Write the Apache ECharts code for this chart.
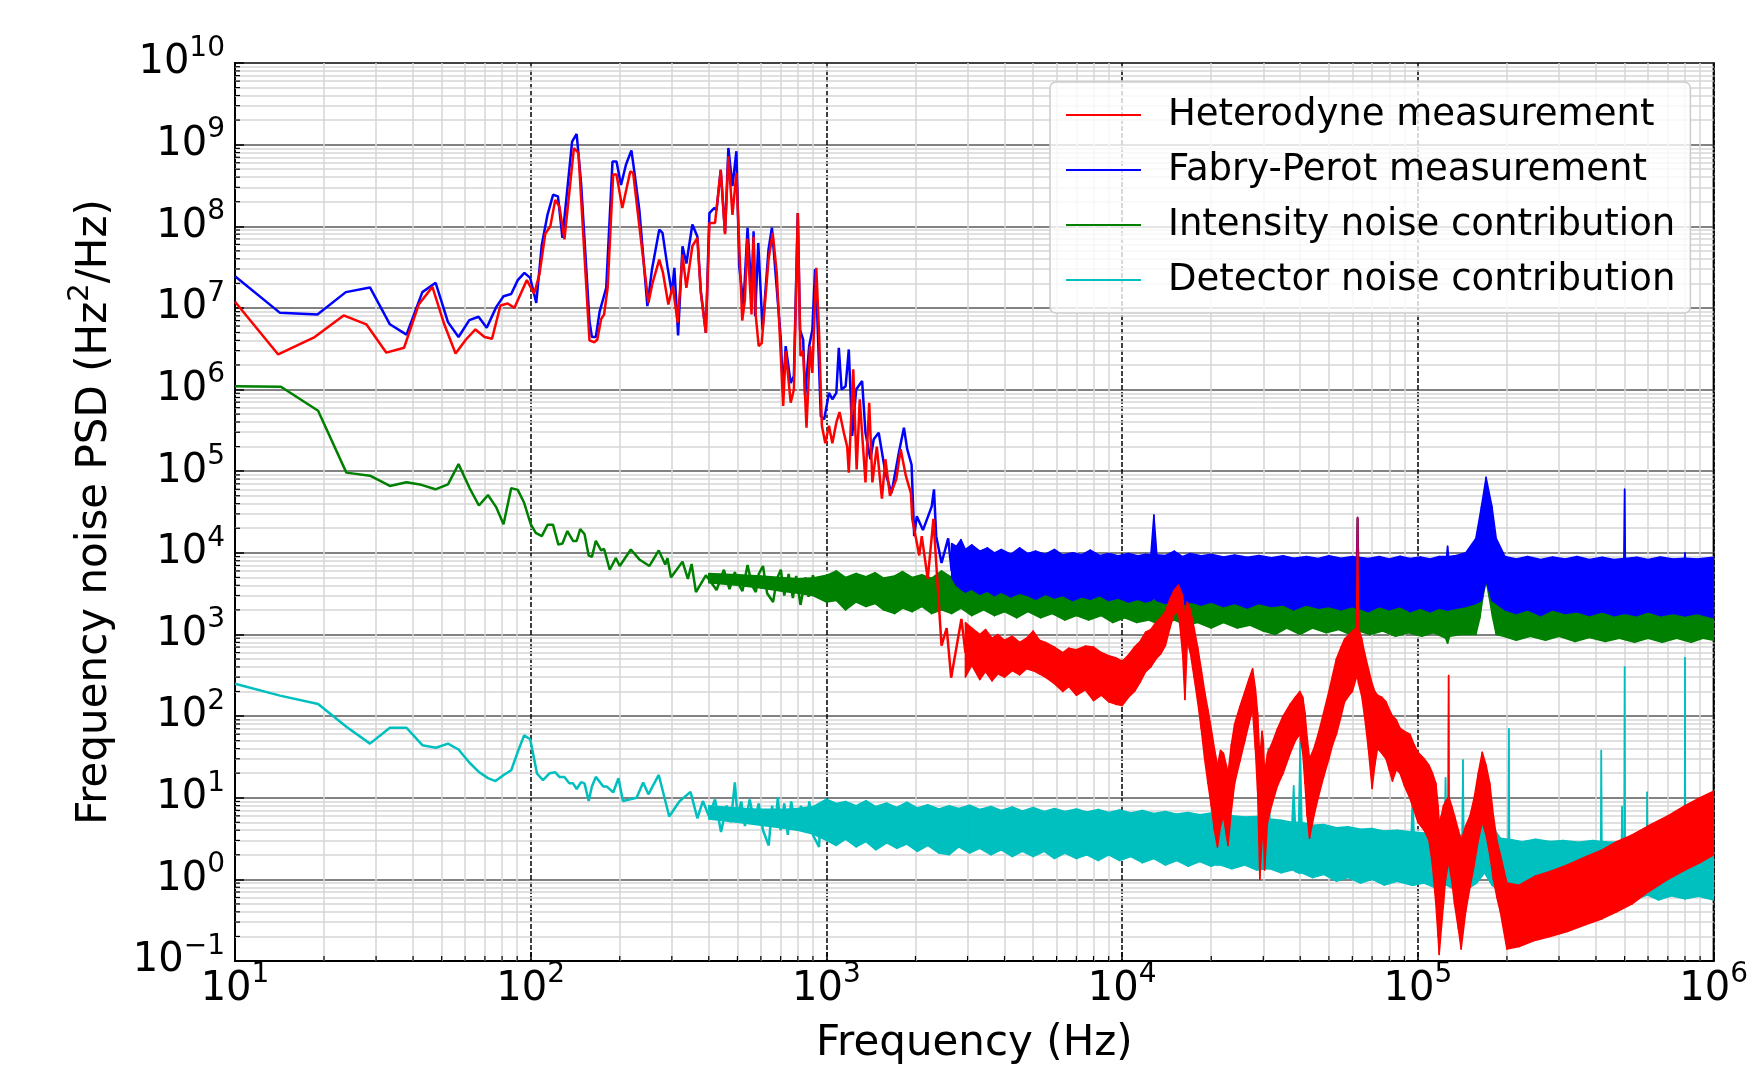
<!DOCTYPE html>
<html>
<head>
<meta charset="utf-8">
<title>Frequency noise PSD</title>
<script src="https://cdn.jsdelivr.net/npm/echarts@6/dist/echarts.min.js"></script>
<style>
  html, body { margin: 0; padding: 0; background: #fff; }
  #chart { width: 1751px; height: 1070px; }
</style>
</head>
<body>
<div id="chart"></div>
<script>
// values: frequency in Hz, PSD in Hz^2/Hz
const seriesNames = ['Heterodyne measurement', 'Fabry-Perot measurement', 'Intensity noise contribution', 'Detector noise contribution'];

// low-frequency parts, plotted as lines: [freq, psd]
const heterodyneLine = [
  [10, 1.19e7], [14, 2.69e6], [18.6, 4.4e6], [23.3, 8.1e6], [27.8, 6.3e6], [32.5, 2.83e6], [37.3, 3.25e6],
  [41.8, 1.1e7], [46.5, 1.81e7], [51, 6.3e6], [55.7, 2.76e6], [60.4, 4.1e6], [65, 5.45e6], [69.8, 4.4e6],
  [74, 4.2e6], [79, 1.07e7], [83.6, 1.13e7], [88, 1.0e7], [97, 2.19e7], [102.7, 1.5e7], [107, 2.57e7],
  [112, 8.1e7], [116.5, 1.0e8], [121, 2.1e8], [125, 1.75e8], [130, 6.9e7], [140, 9.1e8], [145, 7.9e8],
  [158, 4.0e6], [164, 3.8e6], [168, 4.1e6], [173, 7.3e6], [177, 8.3e6], [182, 1.76e7], [190, 4.3e8],
  [195, 4.3e8], [204, 1.67e8], [217, 4.7e8], [222, 4.5e8], [233, 1.0e8], [250, 1.15e7], [258, 2.0e7],
  [272, 3.9e7], [280, 2.7e7], [292, 1.1e7], [302, 1.85e7], [314, 6.6e6], [326, 4.5e7], [336, 1.76e7],
  [352, 5.7e7], [366, 7.2e7], [376, 1.53e7], [391, 4.95e6], [402, 1.1e8], [420, 1.1e8], [439, 4.9e8],
  [454, 8.0e7], [466, 7.2e8], [481, 1.38e8], [496, 4.5e8], [519, 7.0e6], [530, 1.26e7], [540, 7.0e7],
  [558, 8.3e6], [567, 7.5e7], [577, 7.9e6], [590, 3.4e6], [604, 3.7e6], [637, 3.9e7], [658, 8.3e7],
  [679, 2.7e7], [701, 2.57e6], [714, 6.3e5], [728, 2.95e6], [757, 6.9e5], [776, 1.0e6], [800, 1.45e8],
  [817, 2.57e6], [834, 2.95e6], [856, 3.4e5], [880, 3.4e6], [896, 1.6e6], [924, 3.1e7], [944, 4.95e6],
  [965, 3.6e5], [991, 2.2e5], [1020, 3.6e5], [1047, 2.2e5], [1080, 3.95e5], [1107, 5.3e5], [1145, 2.95e5],
  [1175, 2.0e5], [1190, 9.6e4], [1232, 1.77e6], [1265, 1.05e5], [1296, 7.6e5], [1355, 7.3e4], [1395, 6.9e5],
  [1430, 7.3e4], [1480, 2.0e5], [1540, 4.6e4], [1582, 1.4e5], [1640, 5.0e4], [1723, 8.0e4], [1782, 1.86e5],
  [1855, 8.8e4], [1930, 5.4e4], [1950, 2.6e4], [2060, 9.3e3], [2100, 1.6e4], [2200, 4.8e3], [2300, 2.6e4],
  [2400, 2.3e3], [2450, 730], [2550, 1.2e3], [2640, 295], [2860, 1.55e3], [2950, 600]
];
const fabryPerotLine = [
  [10, 2.44e7], [14.2, 8.7e6], [19, 8.3e6], [23.7, 1.56e7], [28.6, 1.78e7], [33.4, 6.3e6], [38, 4.7e6],
  [43, 1.56e7], [47.7, 2.03e7], [52.5, 6.7e6], [57, 4.4e6], [62, 7.1e6], [66.6, 7.8e6], [71, 5.7e6],
  [76.5, 1.03e7], [80.9, 1.39e7], [85.9, 1.48e7], [90.4, 2.19e7], [95.2, 2.69e7], [99.6, 2.33e7],
  [104.4, 1.15e7], [109, 5.96e7], [114, 1.39e8], [119, 2.43e8], [123.6, 2.32e8], [128, 7.2e7], [138, 1.09e9],
  [143, 1.35e9], [148, 3.39e8], [158, 6.9e6], [161, 4.4e6], [166, 4.4e6], [171, 9.0e6], [180, 1.76e7],
  [189, 6.2e8], [195, 6.2e8], [202, 3.2e8], [210, 5.7e8], [219, 8.5e8], [224, 4.7e8], [233, 1.58e8],
  [248, 1.05e7], [257, 2.96e7], [272, 9.1e7], [279, 8.3e7], [290, 3.2e7], [300, 1.53e7], [306, 3.1e7],
  [315, 4.6e6], [326, 5.7e7], [336, 3.5e7], [352, 1.05e8], [366, 7.5e7], [376, 1.6e7], [391, 4.95e6],
  [402, 1.45e8], [417, 1.67e8], [425, 1.58e8], [439, 4.9e8], [454, 8.3e7], [466, 9.1e8], [481, 3.1e8],
  [496, 8.3e8], [507, 3.2e7], [524, 1.1e7], [541, 9.6e7], [558, 1.53e7], [567, 8.7e7], [574, 7.9e6],
  [588, 6.25e7], [608, 5.4e6], [637, 5.2e7], [654, 9.6e7], [670, 3.2e7], [701, 4.1e6], [713, 9.1e5],
  [728, 3.4e6], [757, 1.2e6], [776, 1.46e6], [800, 1.45e8], [814, 5.4e6], [834, 4.1e6], [847, 8.3e5],
  [874, 3.4e6], [896, 5.4e6], [915, 3.0e7], [931, 7.9e6], [957, 4.7e5], [982, 4.3e5], [1020, 9.1e5],
  [1047, 7.6e5], [1080, 9.1e5], [1101, 3.25e6], [1125, 1.0e6], [1161, 1.1e6], [1190, 3.1e6], [1222, 2.7e5],
  [1260, 1.0e6], [1320, 1.27e6], [1355, 2.95e5], [1408, 1.4e5], [1445, 2.46e5], [1502, 2.95e5], [1582, 9.6e4],
  [1660, 5.4e4], [1758, 1.7e5], [1828, 3.4e5], [1875, 1.86e5], [1940, 1.2e5], [1980, 1.6e4], [2020, 2.8e4],
  [2120, 1.9e4], [2270, 3.7e4], [2310, 6.0e4], [2350, 1.6e4], [2450, 7.5e3], [2580, 1.5e4], [2650, 6.0e3]
];
const intensityLine = [
  [10, 1.1e6], [14.3, 1.08e6], [19.1, 5.5e5], [23.8, 9.6e4], [28.6, 8.8e4], [33.4, 6.6e4], [38, 7.3e4],
  [42.7, 6.8e4], [47.6, 6.0e4], [52.5, 6.9e4], [57, 1.22e5], [62, 6.3e4], [66.8, 3.8e4], [71.7, 5.1e4],
  [76.5, 3.6e4], [80.9, 2.24e4], [85.9, 6.2e4], [90.4, 5.9e4], [95, 4.1e4], [100, 2.24e4], [104, 1.75e4],
  [109, 1.6e4], [114, 2.2e4], [119, 2.2e4], [124, 1.26e4], [128, 1.3e4], [133, 1.85e4], [139, 1.4e4],
  [143, 1.4e4], [147, 1.95e4], [152, 1.7e4], [157, 9.3e3], [161, 8.9e3], [166, 1.4e4], [173, 1.07e4],
  [177, 1.12e4], [185, 6.2e3], [194, 8.6e3], [200, 6.9e3], [218, 1.1e4], [233, 8.3e3], [252, 6.9e3],
  [271, 1.07e4], [285, 7.2e3], [290, 8.6e3], [298, 5.0e3], [326, 7.8e3], [340, 4.8e3], [350, 7.3e3],
  [362, 3.3e3], [391, 5.3e3], [410, 4.2e3], [425, 3.5e3], [450, 6.2e3], [470, 3.6e3], [490, 5.8e3],
  [507, 4.0e3], [520, 3.4e3], [541, 7.1e3], [560, 4.0e3], [577, 3.3e3], [590, 5.5e3], [610, 6.9e3],
  [630, 3.2e3], [660, 2.5e3], [680, 4.8e3], [701, 6.2e3], [720, 3.0e3], [745, 5.5e3], [770, 2.8e3],
  [790, 5.2e3], [817, 2.3e3], [850, 5.0e3], [870, 2.9e3], [900, 5.3e3], [944, 2.85e3], [970, 4.8e3],
  [1000, 3.0e3]
];
const detectorLine = [
  [10, 249], [14.2, 178], [19.1, 141], [23.8, 74], [28.6, 46], [33.4, 72], [38, 72], [43, 44], [47.8, 41],
  [52.5, 46], [57, 39], [62, 27], [67, 20.5], [71.7, 17.4], [76, 16], [81, 19], [85.9, 21.7], [90.4, 36.5],
  [95, 58], [99.6, 52], [105, 19.8], [110, 16.4], [116, 20], [121, 20.5], [125, 18], [130, 18], [135, 15],
  [139, 15], [143, 12.8], [148, 15.5], [152, 15], [157, 9.1], [161, 13.7], [166, 18], [176, 13.7], [181, 13.7],
  [190, 11.6], [198, 17.3], [205, 9.1], [228, 10], [240, 15.4], [250, 11], [258, 13.7], [271, 19], [294, 5.9],
  [318, 9], [347, 11.8], [366, 5.6], [382, 9.1], [400, 6], [420, 9.5], [440, 3.8], [460, 8], [475, 5],
  [490, 15.4], [500, 6], [515, 9], [530, 4.5], [550, 9.5], [570, 5], [590, 8.5], [610, 4], [638, 2.6],
  [655, 8], [670, 4.5], [685, 10], [700, 4], [720, 8.5], [740, 3.5], [760, 9], [790, 4], [820, 8],
  [850, 3.8], [875, 9], [900, 3.5], [944, 2.5], [960, 8.5], [985, 3.5], [1000, 6]
];

// dense noisy parts, plotted as envelopes: [freq, low, high]
const heterodyneBand = [
  [2950, 300, 1400], [3100, 420, 1200], [3300, 280, 1000], [3450, 350, 1150], [3630, 270, 900], [3800, 330, 1000],
  [4000, 300, 850], [4250, 360, 950], [4500, 320, 800], [4750, 380, 900], [5000, 360, 1100], [5250, 330, 850],
  [5500, 300, 800], [5900, 250, 700], [6300, 200, 600], [6600, 230, 680], [7000, 180, 650], [7500, 210, 720],
  [8000, 155, 700], [8500, 180, 600], [9000, 150, 550], [9500, 140, 520], [1.0e4, 135, 470], [1.05e4, 170, 560],
  [1.1e4, 200, 700], [1.15e4, 260, 820], [1.2e4, 350, 1070], [1.25e4, 400, 1150], [1.3e4, 500, 1400],
  [1.35e4, 580, 1600], [1.4e4, 730, 1900], [1.45e4, 1200, 2700], [1.5e4, 1800, 3500], [1.55e4, 1900, 4000],
  [1.6e4, 600, 3000], [1.63e4, 160, 1500], [1.66e4, 800, 2500], [1.7e4, 600, 2000], [1.75e4, 300, 1200],
  [1.8e4, 150, 700], [1.85e4, 70, 380], [1.9e4, 30, 200], [1.95e4, 15, 120], [2.0e4, 8, 70], [2.05e4, 4, 40],
  [2.1e4, 2.5, 25], [2.15e4, 4.5, 38], [2.2e4, 6, 35], [2.25e4, 3.5, 25], [2.28e4, 2.6, 20], [2.34e4, 7, 45],
  [2.4e4, 15, 80], [2.5e4, 28, 130], [2.6e4, 50, 200], [2.68e4, 80, 280], [2.76e4, 120, 380], [2.82e4, 40, 220],
  [2.87e4, 12, 110], [2.92e4, 1, 30], [2.97e4, 3, 65], [3.0e4, 6, 50], [3.03e4, 1.3, 20], [3.1e4, 5, 35],
  [3.2e4, 8, 45], [3.35e4, 14, 70], [3.5e4, 20, 100], [3.7e4, 35, 140], [3.85e4, 50, 170], [3.99e4, 60, 200],
  [4.08e4, 35, 170], [4.15e4, 15, 110], [4.22e4, 6, 55], [4.3e4, 3.2, 30], [4.45e4, 6, 40], [4.6e4, 10, 60],
  [4.8e4, 18, 110], [5.0e4, 30, 200], [5.15e4, 45, 320], [5.3e4, 60, 500], [5.5e4, 100, 700], [5.65e4, 150, 880],
  [5.85e4, 180, 1000], [6.0e4, 200, 1100], [6.2e4, 300, 1200], [6.25e4, 300, 2.7e4], [6.3e4, 250, 1200],
  [6.45e4, 180, 900], [6.6e4, 100, 600], [6.8e4, 40, 380], [7.0e4, 13, 250], [7.15e4, 25, 200], [7.3e4, 40, 180],
  [7.55e4, 35, 170], [7.8e4, 30, 150], [8.0e4, 22, 120], [8.2e4, 16, 100], [8.45e4, 22, 90], [8.7e4, 20, 71],
  [9.0e4, 14, 65], [9.4e4, 9.8, 60], [9.7e4, 7, 45], [1.0e5, 5, 36], [1.05e5, 4, 30], [1.09e5, 3, 25],
  [1.12e5, 1.5, 20], [1.15e5, 0.5, 15], [1.17e5, 0.2, 8], [1.18e5, 0.12, 5], [1.2e5, 0.25, 6], [1.22e5, 0.5, 8],
  [1.24e5, 1, 9], [1.265e5, 1.5, 10], [1.27e5, 2, 315], [1.275e5, 1.5, 10], [1.3e5, 1, 8], [1.33e5, 0.5, 6],
  [1.37e5, 0.25, 4], [1.4e5, 0.14, 3], [1.45e5, 0.4, 4.5], [1.5e5, 0.8, 6], [1.55e5, 1.5, 10], [1.6e5, 3, 20],
  [1.65e5, 5, 36], [1.7e5, 3.5, 25], [1.75e5, 2, 15], [1.8e5, 1, 6], [1.85e5, 0.6, 3], [1.9e5, 0.4, 2],
  [2.0e5, 0.14, 0.9], [2.2e5, 0.15, 0.85], [2.5e5, 0.18, 1.1], [2.8e5, 0.2, 1.25], [3.2e5, 0.23, 1.5],
  [3.7e5, 0.28, 1.9], [4.2e5, 0.33, 2.3], [4.7e5, 0.4, 2.9], [5.3e5, 0.5, 3.5], [6.0e5, 0.7, 4.5],
  [7.0e5, 1, 6], [8.0e5, 1.3, 8], [9.0e5, 1.6, 10], [1.0e6, 2, 12]
];
const fabryPerotBand = [
  [2650, 5.0e3, 1.3e4], [2750, 4.0e3, 1.2e4], [2850, 3.6e3, 1.45e4], [2950, 3.3e3, 1.1e4], [3100, 3.6e3, 1.25e4],
  [3300, 3.1e3, 1.05e4], [3500, 3.4e3, 1.15e4], [3700, 3.0e3, 1.0e4], [3900, 3.3e3, 1.1e4], [4200, 2.9e3, 9.6e3],
  [4500, 3.2e3, 1.15e4], [4800, 3.0e3, 9.8e3], [5100, 2.7e3, 1.05e4], [5500, 3.1e3, 9.6e3], [5900, 2.8e3, 1.1e4],
  [6300, 3.0e3, 9.4e3], [6800, 2.6e3, 1.0e4], [7300, 2.9e3, 9.5e3], [7800, 2.7e3, 1.08e4], [8400, 3.0e3, 9.3e3],
  [9000, 2.6e3, 9.8e3], [9700, 2.8e3, 9.2e3], [1.05e4, 2.5e3, 9.8e3], [1.13e4, 2.7e3, 9.2e3], [1.2e4, 2.5e3, 9.6e3],
  [1.25e4, 2.6e3, 9.5e3], [1.28e4, 2.8e3, 2.9e4], [1.31e4, 2.6e3, 9.5e3], [1.4e4, 2.4e3, 9.3e3], [1.5e4, 2.6e3, 1.05e4],
  [1.6e4, 2.3e3, 9.0e3], [1.7e4, 2.5e3, 9.8e3], [1.85e4, 2.3e3, 9.2e3], [2.0e4, 2.5e3, 9.6e3], [2.2e4, 2.2e3, 8.9e3],
  [2.4e4, 2.4e3, 9.4e3], [2.65e4, 2.1e3, 8.8e3], [2.9e4, 2.4e3, 9.3e3], [3.2e4, 2.2e3, 8.7e3], [3.5e4, 2.3e3, 9.2e3],
  [3.8e4, 2.0e3, 8.6e3], [4.2e4, 2.3e3, 9.0e3], [4.6e4, 2.1e3, 8.5e3], [5.0e4, 2.2e3, 9.2e3], [5.5e4, 2.0e3, 8.6e3],
  [6.0e4, 2.2e3, 9.0e3], [6.2e4, 2.1e3, 8.8e3], [6.25e4, 2.1e3, 2.7e4], [6.3e4, 2.1e3, 8.8e3], [6.8e4, 1.9e3, 8.5e3],
  [7.4e4, 2.2e3, 9.0e3], [8.0e4, 2.0e3, 8.4e3], [8.7e4, 2.2e3, 9.1e3], [9.4e4, 1.9e3, 8.5e3], [1.02e5, 2.1e3, 8.9e3],
  [1.1e5, 1.9e3, 8.4e3], [1.18e5, 2.1e3, 9.0e3], [1.25e5, 2.0e3, 9.0e3], [1.26e5, 2.0e3, 1.2e4], [1.27e5, 2.0e3, 9.0e3],
  [1.35e5, 2.1e3, 9.3e3], [1.45e5, 2.2e3, 1.0e4], [1.57e5, 2.4e3, 1.5e4], [1.64e5, 2.6e3, 3.7e4], [1.7e5, 4.6e3, 8.4e4],
  [1.78e5, 2.6e3, 3.7e4], [1.84e5, 2.4e3, 1.5e4], [1.97e5, 2.0e3, 9.0e3], [2.15e5, 1.8e3, 8.4e3], [2.35e5, 2.0e3, 9.0e3],
  [2.6e5, 1.7e3, 8.3e3], [2.85e5, 2.0e3, 8.9e3], [3.15e5, 1.8e3, 8.4e3], [3.45e5, 1.9e3, 9.0e3], [3.8e5, 1.7e3, 8.3e3],
  [4.2e5, 1.9e3, 8.8e3], [4.6e5, 1.7e3, 8.3e3], [4.97e5, 1.8e3, 8.5e3], [5.0e5, 1.8e3, 6.0e4], [5.03e5, 1.8e3, 8.5e3],
  [5.5e5, 1.7e3, 8.8e3], [6.0e5, 1.9e3, 8.3e3], [6.6e5, 1.7e3, 8.9e3], [7.3e5, 1.8e3, 8.4e3], [7.97e5, 1.7e3, 8.6e3],
  [8.0e5, 1.7e3, 1.0e4], [8.03e5, 1.7e3, 8.6e3], [8.8e5, 1.8e3, 8.4e3], [1.0e6, 1.6e3, 8.8e3]
];
const intensityBand = [
  [400, 4.3e3, 5.6e3], [500, 4.0e3, 5.4e3], [600, 3.7e3, 5.2e3], [700, 3.4e3, 5.0e3], [800, 3.2e3, 4.8e3],
  [900, 3.0e3, 4.9e3], [1000, 2.5e3, 5.3e3], [1080, 2.6e3, 6.0e3], [1160, 2.0e3, 5.0e3], [1260, 2.5e3, 5.6e3],
  [1360, 2.2e3, 5.1e3], [1460, 2.4e3, 5.7e3], [1560, 2.0e3, 4.9e3], [1700, 1.8e3, 5.2e3], [1810, 2.1e3, 5.9e3],
  [1950, 1.9e3, 5.0e3], [2100, 2.2e3, 5.4e3], [2270, 1.8e3, 4.9e3], [2450, 2.0e3, 6.0e3], [2650, 1.8e3, 5.0e3],
  [2850, 2.1e3, 5.4e3], [3100, 1.7e3, 4.8e3], [3400, 2.0e3, 5.3e3], [3700, 1.7e3, 4.7e3], [4000, 1.9e3, 5.1e3],
  [4400, 1.6e3, 4.6e3], [4800, 1.9e3, 5.0e3], [5300, 1.6e3, 4.5e3], [5800, 1.8e3, 4.9e3], [6400, 1.5e3, 4.4e3],
  [7000, 1.7e3, 4.7e3], [7700, 1.5e3, 4.3e3], [8500, 1.7e3, 4.5e3], [9300, 1.4e3, 4.1e3], [1.02e4, 1.6e3, 4.4e3],
  [1.12e4, 1.4e3, 4.0e3], [1.23e4, 1.5e3, 4.3e3], [1.35e4, 1.3e3, 3.9e3], [1.5e4, 1.5e3, 4.1e3], [1.65e4, 1.3e3, 3.7e3],
  [1.8e4, 1.4e3, 3.9e3], [2.0e4, 1.2e3, 3.6e3], [2.2e4, 1.4e3, 3.8e3], [2.45e4, 1.2e3, 3.5e3], [2.7e4, 1.3e3, 3.7e3],
  [3.0e4, 1.1e3, 3.4e3], [3.3e4, 1.0e3, 3.5e3], [3.6e4, 1.2e3, 3.3e3], [4.0e4, 1.0e3, 3.5e3], [4.4e4, 1.2e3, 3.2e3],
  [4.9e4, 1.05e3, 3.4e3], [5.4e4, 1.15e3, 3.1e3], [5.9e4, 1.0e3, 3.3e3], [6.2e4, 1.1e3, 3.2e3], [6.25e4, 1.1e3, 2.6e4],
  [6.3e4, 1.1e3, 3.2e3], [6.9e4, 1.0e3, 3.1e3], [7.6e4, 1.1e3, 3.3e3], [8.4e4, 0.95e3, 3.0e3], [9.3e4, 1.05e3, 3.2e3],
  [1.03e5, 0.95e3, 3.0e3], [1.13e5, 1.05e3, 3.1e3], [1.24e5, 0.9e3, 2.9e3], [1.26e5, 0.78e3, 2.9e3], [1.28e5, 0.95e3, 2.9e3],
  [1.4e5, 1.0e3, 3.0e3], [1.52e5, 1.0e3, 3.0e3], [1.57e5, 1.0e3, 3.5e3], [1.62e5, 1.6e3, 6.0e3], [1.66e5, 2.9e3, 1.5e4],
  [1.7e5, 4.6e3, 3.0e4], [1.74e5, 2.9e3, 1.5e4], [1.79e5, 1.6e3, 6.0e3], [1.84e5, 1.0e3, 3.5e3], [1.95e5, 0.95e3, 2.4e3],
  [2.15e5, 0.85e3, 2.3e3], [2.4e5, 0.95e3, 2.4e3], [2.7e5, 0.85e3, 2.2e3], [3.0e5, 0.95e3, 2.3e3], [3.4e5, 0.82e3, 2.2e3],
  [3.8e5, 0.92e3, 2.3e3], [4.3e5, 0.82e3, 2.1e3], [4.8e5, 0.9e3, 2.3e3], [5.4e5, 0.8e3, 2.1e3], [6.0e5, 0.9e3, 2.2e3],
  [6.7e5, 0.8e3, 2.1e3], [7.5e5, 0.9e3, 2.2e3], [8.4e5, 0.8e3, 2.1e3], [9.2e5, 0.9e3, 2.2e3], [1.0e6, 0.85e3, 2.1e3]
];
const detectorBand = [
  [400, 5.5, 8.0], [500, 5.0, 7.5], [600, 4.6, 7.2], [700, 4.3, 7.2], [800, 4.0, 7.4], [900, 3.6, 7.8],
  [1000, 3.0, 9.6], [1080, 2.6, 8.5], [1160, 3.1, 9.0], [1260, 2.5, 8.0], [1360, 2.9, 9.2], [1470, 2.3, 7.8],
  [1600, 2.8, 8.6], [1730, 2.4, 7.6], [1870, 2.7, 8.8], [2030, 2.2, 7.5], [2200, 2.6, 8.2], [2400, 2.1, 7.3],
  [2600, 2.0, 8.0], [2800, 2.5, 7.4], [3050, 2.1, 8.1], [3300, 2.4, 7.2], [3600, 2.0, 7.8], [3900, 2.3, 7.0],
  [4250, 1.9, 7.7], [4600, 2.2, 6.9], [5000, 1.9, 7.6], [5450, 2.2, 6.8], [5900, 1.8, 7.4], [6400, 2.1, 6.8],
  [7000, 1.8, 7.3], [7600, 2.0, 6.7], [8300, 1.7, 7.2], [9000, 2.0, 6.6], [9800, 1.7, 7.1], [1.07e4, 1.9, 6.5],
  [1.17e4, 1.6, 7.0], [1.28e4, 1.8, 6.4], [1.4e4, 1.5, 6.8], [1.53e4, 1.7, 6.3], [1.67e4, 1.45, 6.6],
  [1.83e4, 1.65, 6.2], [2.0e4, 1.45, 6.5], [2.05e4, 1.5, 6.3], [2.1e4, 1.5, 16], [2.15e4, 1.5, 6.3],
  [2.35e4, 1.35, 6.0], [2.6e4, 1.5, 5.8], [2.85e4, 1.3, 5.9], [3.08e4, 1.35, 5.5], [3.12e4, 1.35, 40],
  [3.16e4, 1.35, 5.5], [3.45e4, 1.2, 5.3], [3.75e4, 1.3, 5.0], [3.8e4, 1.3, 14], [3.85e4, 1.25, 5.0],
  [3.95e4, 1.2, 5.0], [4.0e4, 1.2, 53], [4.05e4, 1.2, 5.0], [4.4e4, 1.05, 4.6], [4.8e4, 1.15, 4.7],
  [5.3e4, 0.95, 4.3], [5.8e4, 1.05, 4.4], [6.4e4, 0.9, 4.1], [7.0e4, 1.0, 4.2], [7.7e4, 0.85, 3.9],
  [8.5e4, 0.95, 4.0], [9.5e4, 0.85, 3.8], [9.6e4, 0.85, 14], [9.7e4, 0.85, 3.8], [1.05e5, 0.9, 3.7],
  [1.15e5, 0.78, 3.6], [1.23e5, 0.85, 3.5], [1.24e5, 0.85, 17.6], [1.25e5, 0.85, 3.5], [1.33e5, 0.75, 3.4],
  [1.41e5, 0.8, 3.5], [1.42e5, 0.8, 29], [1.43e5, 0.8, 3.5], [1.5e5, 0.8, 3.6], [1.58e5, 0.9, 4.5],
  [1.68e5, 1.2, 12], [1.78e5, 0.85, 4.5], [1.9e5, 0.7, 3.2], [2.02e5, 0.65, 3.1], [2.03e5, 0.65, 70],
  [2.04e5, 0.65, 3.1], [2.25e5, 0.6, 2.9], [2.5e5, 0.68, 3.1], [2.8e5, 0.58, 2.9], [3.1e5, 0.66, 3.0],
  [3.5e5, 0.57, 2.85], [3.9e5, 0.65, 3.0], [4.15e5, 0.6, 2.9], [4.17e5, 0.6, 38], [4.19e5, 0.6, 2.9],
  [4.5e5, 0.56, 2.85], [4.88e5, 0.62, 2.9], [4.9e5, 0.62, 7.8], [4.93e5, 0.62, 2.9], [4.98e5, 0.6, 2.9],
  [5.0e5, 0.6, 400], [5.02e5, 0.6, 2.9], [5.45e5, 0.57, 2.8], [5.94e5, 0.64, 2.9], [5.96e5, 0.64, 11.7],
  [5.98e5, 0.64, 2.9], [6.5e5, 0.56, 2.8], [7.2e5, 0.63, 2.95], [7.97e5, 0.58, 2.8], [8.0e5, 0.58, 520],
  [8.03e5, 0.58, 2.8], [8.9e5, 0.62, 2.9], [1.0e6, 0.56, 2.8]
];

// axis ticks
const xDecades = [10, 100, 1e3, 1e4, 1e5];
const yDecades = [0.1, 1, 10, 100, 1e3, 1e4, 1e5, 1e6, 1e7, 1e8, 1e9];
const minorMantissas = [2, 3, 4, 5, 6, 7, 8, 9];

const colors = ['#ff0000', '#0000ff', '#008000', '#00bfbf'];
const FONT = 'DejaVu Sans';

const xMinor = [];
xDecades.forEach(d => minorMantissas.forEach(m => xMinor.push(m * d)));
const yMinor = [];
yDecades.forEach(d => minorMantissas.forEach(m => yMinor.push(m * d)));

function powLabel(v) {
  const e = Math.round(Math.log10(v));
  return '{b|10}{e|' + (e < 0 ? '\u2212' + (-e) : e) + '}';
}
const powRich = {
  b: { fontSize: 40, fontFamily: FONT, color: '#000' },
  e: { fontSize: 28, fontFamily: FONT, color: '#000', padding: [0, 0, 29, 0] }
};

function traceLine(name, color, rows, z) {
  return {
    name: name, type: 'line', data: rows, z: z,
    symbol: 'none', showSymbol: false, silent: true, clip: true,
    lineStyle: { color: color, width: 2.5 }, itemStyle: { color: color },
    emphasis: { disabled: true }
  };
}

function traceBand(name, color, rows, z) {
  return {
    name: name, type: 'custom', data: rows, z: z, silent: true, clip: true,
    encode: { x: 0, y: [1, 2] }, itemStyle: { color: color },
    renderItem: function (params, api) {
      const i = params.dataIndexInside;
      if (i + 1 >= params.dataInsideLength) return null;
      const a = api.coord([api.value(0, i), api.value(2, i)]);
      const b = api.coord([api.value(0, i + 1), api.value(2, i + 1)]);
      const c = api.coord([api.value(0, i + 1), api.value(1, i + 1)]);
      const d = api.coord([api.value(0, i), api.value(1, i)]);
      return {
        type: 'polygon', shape: { points: [a, b, c, d] },
        style: { fill: color, stroke: color, lineWidth: 1.5, lineJoin: 'round' }
      };
    }
  };
}

function minorTicks(axis) {
  const data = axis === 'x' ? xMinor.map(v => [v, 0.1]) : yMinor.map(v => [10, v]);
  return {
    type: 'custom', data: data, z: 7, silent: true, clip: false,
    renderItem: function (params, api) {
      const p = api.coord([api.value(0), api.value(1)]);
      const shape = axis === 'x'
        ? { x1: p[0], y1: p[1], x2: p[0], y2: p[1] - 5 }
        : { x1: p[0], y1: p[1], x2: p[0] + 5, y2: p[1] };
      return { type: 'line', shape: shape, style: { stroke: '#000', lineWidth: 1.2 } };
    }
  };
}

const chart = echarts.init(document.getElementById('chart'));
chart.setOption({
  animation: false,
  backgroundColor: '#fff',
  textStyle: { fontFamily: FONT },
  grid: { left: 235, right: 35, top: 63, bottom: 107, show: true, borderColor: '#000', borderWidth: 2, backgroundColor: 'transparent' },
  legend: {
    data: seriesNames, orient: 'vertical', left: 1050, top: 82, z: 10,
    icon: 'rect', itemWidth: 75, itemHeight: 2, itemGap: 15,
    padding: [13, 15, 13, 16],
    backgroundColor: 'rgba(255,255,255,0.8)', borderColor: '#cccccc', borderWidth: 1.5, borderRadius: 6,
    textStyle: { fontSize: 37, fontFamily: FONT, color: '#000', lineHeight: 40, padding: [0, 0, 0, 22] },
    selectedMode: false
  },
  xAxis: {
    type: 'log', logBase: 10, min: 10, max: 1e6, interval: 1,
    name: 'Frequency (Hz)', nameLocation: 'middle', nameGap: 83,
    nameTextStyle: { fontSize: 42, fontFamily: FONT, color: '#000', verticalAlign: 'middle' },
    axisLine: { show: true, lineStyle: { color: '#000', width: 2 } },
    axisTick: { show: true, inside: true, length: 9, lineStyle: { color: '#000', width: 1.5 } },
    axisLabel: { margin: 0, formatter: powLabel, rich: powRich, showMinLabel: true, showMaxLabel: true },
    splitLine: { show: true, lineStyle: { color: '#000', width: 1.5, type: [5, 2] } },
    minorTick: { show: false }, minorSplitLine: { show: false }
  },
  yAxis: {
    type: 'log', logBase: 10, min: 0.1, max: 1e10, interval: 1,
    name: 'Frequency noise PSD (Hz{s|2}/Hz)', nameLocation: 'middle', nameGap: 140,
    nameTextStyle: {
      fontSize: 42, fontFamily: FONT, color: '#000', verticalAlign: 'middle',
      rich: { s: { fontSize: 29, fontFamily: FONT, color: '#000', padding: [0, 0, 30, 0] } }
    },
    axisLine: { show: true, lineStyle: { color: '#000', width: 2 } },
    axisTick: { show: true, inside: true, length: 9, lineStyle: { color: '#000', width: 1.5 } },
    axisLabel: { margin: 10, formatter: powLabel, rich: powRich, showMinLabel: true, showMaxLabel: true },
    splitLine: { show: true, lineStyle: { color: '#595959', width: 1.5 } },
    minorTick: { show: false }, minorSplitLine: { show: false }
  },
  series: [
    traceLine(seriesNames[0], colors[0], heterodyneLine, 6),
    traceLine(seriesNames[1], colors[1], fabryPerotLine, 4),
    traceLine(seriesNames[2], colors[2], intensityLine, 3),
    traceLine(seriesNames[3], colors[3], detectorLine, 5),
    traceBand(seriesNames[0], colors[0], heterodyneBand, 6),
    traceBand(seriesNames[1], colors[1], fabryPerotBand, 4),
    traceBand(seriesNames[2], colors[2], intensityBand, 3),
    traceBand(seriesNames[3], colors[3], detectorBand, 5),
    {
      // minor grid, kept under the traces
      type: 'line', data: [], z: 1, silent: true,
      markLine: {
        z: 1, silent: true, symbol: 'none', animation: false, label: { show: false },
        lineStyle: { color: '#d6d6d6', width: 1.5, type: 'solid' },
        data: xMinor.map(v => ({ xAxis: v })).concat(yMinor.map(v => ({ yAxis: v })))
      }
    },
    minorTicks('x'),
    minorTicks('y')
  ]
});
</script>
</body>
</html>
